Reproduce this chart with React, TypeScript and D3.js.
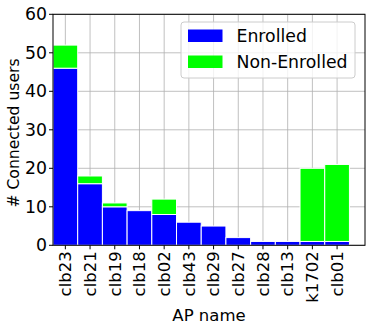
import React, { useEffect, useRef } from 'react';
import * as d3 from 'd3';

const apNames = ['clb23', 'clb21', 'clb19', 'clb18', 'clb02', 'clb43', 'clb29', 'clb27', 'clb28', 'clb13', 'k1702', 'clb01'];
const enrolled = [46, 16, 10, 9, 8, 6, 5, 2, 1, 1, 1, 1];
const nonEnrolled = [6, 2, 1, 0, 4, 0, 0, 0, 0, 0, 19, 20];
const yTicks = [0, 10, 20, 30, 40, 50, 60];
const seriesNames = ['Enrolled', 'Non-Enrolled'];
const seriesColors = ['#0000ff', '#00ff00'];

const App = () => {
  const ref = useRef<SVGSVGElement | null>(null);

  useEffect(() => {
    const width = 374;
    const height = 332;
    const left = 53;
    const right = 365;
    const top = 14.3;
    const bottom = 245.3;
    const font = 'DejaVu Sans, sans-serif';

    const svg = d3.select(ref.current);
    svg.selectAll('*').remove();
    svg.attr('width', width).attr('height', height);

    const x = d3.scaleLinear().domain([-0.5, 12.13]).range([left, right]);
    const y = d3.scaleLinear().domain([0, 60]).range([bottom, top]);

    // grid
    const grid = svg.append('g');
    apNames.forEach((_, i) => {
      grid.append('line')
        .attr('x1', x(i)).attr('x2', x(i))
        .attr('y1', top).attr('y2', bottom)
        .attr('stroke', '#b0b0b0').attr('stroke-width', 0.8);
    });
    yTicks.forEach((t) => {
      grid.append('line')
        .attr('x1', left).attr('x2', right)
        .attr('y1', y(t)).attr('y2', y(t))
        .attr('stroke', '#b0b0b0').attr('stroke-width', 0.8);
    });

    // stacked bars
    const rows = apNames.map((name, i) => ({ name, i, Enrolled: enrolled[i], 'Non-Enrolled': nonEnrolled[i] }));
    const stack = d3.stack<any>().keys(seriesNames)(rows);
    stack.forEach((layer, k) => {
      svg.append('g')
        .selectAll('rect')
        .data(layer.filter((d) => d[1] - d[0] > 0))
        .enter()
        .append('rect')
        .attr('x', (d) => x(d.data.i - 0.5))
        .attr('width', x(1) - x(0))
        .attr('y', (d) => y(d[1]))
        .attr('height', (d) => y(d[0]) - y(d[1]))
        .attr('fill', seriesColors[k])
        .attr('stroke', '#ffffff')
        .attr('stroke-width', 1);
    });

    // frame
    svg.append('rect')
      .attr('x', left).attr('y', top)
      .attr('width', right - left).attr('height', bottom - top)
      .attr('fill', 'none').attr('stroke', '#000').attr('stroke-width', 1);

    // y ticks
    yTicks.forEach((t) => {
      svg.append('line')
        .attr('x1', left - 4).attr('x2', left)
        .attr('y1', y(t)).attr('y2', y(t))
        .attr('stroke', '#000');
      svg.append('text')
        .attr('x', left - 6).attr('y', y(t))
        .attr('dy', '0.35em')
        .attr('text-anchor', 'end')
        .attr('font-family', font).attr('font-size', 17.3)
        .text(t);
    });

    // x ticks
    apNames.forEach((name, i) => {
      svg.append('line')
        .attr('x1', x(i)).attr('x2', x(i))
        .attr('y1', bottom).attr('y2', bottom + 4)
        .attr('stroke', '#000');
      svg.append('text')
        .attr('transform', `translate(${x(i)}, ${bottom + 6}) rotate(-90)`)
        .attr('dy', '0.35em')
        .attr('text-anchor', 'end')
        .attr('font-family', font).attr('font-size', 16.5)
        .text(name);
    });

    // axis labels
    svg.append('text')
      .attr('x', 209).attr('y', 321)
      .attr('text-anchor', 'middle')
      .attr('font-family', font).attr('font-size', 16.5)
      .text('AP name');
    svg.append('text')
      .attr('transform', 'translate(19, 133) rotate(-90)')
      .attr('text-anchor', 'middle')
      .attr('font-family', font).attr('font-size', 15.6)
      .text('# Connected users');

    // legend
    const lg = svg.append('g');
    lg.append('rect')
      .attr('x', 181).attr('y', 22).attr('width', 174).attr('height', 56)
      .attr('rx', 3)
      .attr('fill', '#ffffff').attr('fill-opacity', 0.8)
      .attr('stroke', '#cccccc');
    seriesNames.forEach((s, k) => {
      lg.append('rect')
        .attr('x', 188).attr('y', 29.5 + k * 26).attr('width', 34.5).attr('height', 12.5)
        .attr('fill', seriesColors[k]);
      lg.append('text')
        .attr('x', 236.5).attr('y', 36 + k * 26)
        .attr('dy', '0.35em')
        .attr('font-family', font).attr('font-size', 17.3)
        .text(s);
    });
  }, []);

  return <svg ref={ref} style={{ position: 'absolute', left: 0, top: 0 }} />;
};

export default App;
